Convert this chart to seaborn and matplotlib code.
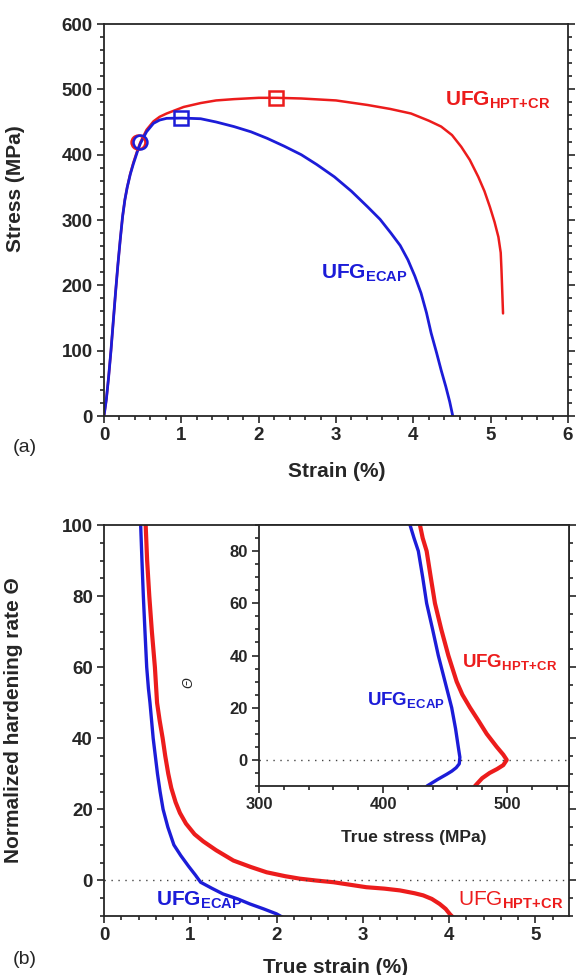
import numpy as np
import pandas as pd
import matplotlib
matplotlib.use("Agg")
import matplotlib.pyplot as plt
from matplotlib.ticker import MultipleLocator
import seaborn as sns

# (a) engineering stress-strain curves
strain_ecap = [0, 0.03, 0.06, 0.09, 0.12, 0.15, 0.18, 0.21, 0.24, 0.27, 0.30, 0.34, 0.38, 0.43,
               0.47, 0.55, 0.64, 0.72, 0.81, 1.01, 1.25, 1.45, 1.68, 1.9, 2.11, 2.33, 2.55,
               2.75, 2.98, 3.2, 3.41, 3.57, 3.71, 3.83, 3.93, 4.02, 4.10, 4.17, 4.23, 4.30,
               4.36, 4.42, 4.47, 4.51]
stress_ecap = [0, 25, 60, 100, 145, 190, 232, 270, 305, 331, 350, 370, 386, 404,
               417, 435, 448, 453, 455.6, 456, 455, 450, 443, 435, 425, 413, 400,
               385, 366, 344, 320, 301, 280, 261, 239, 214, 188, 158, 127, 97,
               70, 45, 22, 0]
strain_hpt = [0, 0.03, 0.06, 0.09, 0.12, 0.15, 0.18, 0.21, 0.24, 0.27, 0.30, 0.34, 0.38, 0.43,
              0.47, 0.55, 0.64, 0.72, 0.81, 0.92, 1.03, 1.25, 1.45, 1.68, 2.0, 2.24, 2.55,
              3.0, 3.41, 3.7, 3.97, 4.2, 4.36, 4.5, 4.62, 4.73, 4.84, 4.92, 4.99, 5.05,
              5.10, 5.13, 5.14, 5.15, 5.16]
stress_hpt = [0, 25, 60, 100, 145, 190, 232, 270, 305, 331, 350, 371, 388, 406,
              419, 438, 451, 458, 463, 468, 473, 479, 483, 485, 487, 487, 486,
              483, 476, 470, 463, 452, 443, 430, 412, 392, 366, 344, 320, 297,
              274, 250, 223, 190, 157]
# markers: yield (circle) and UTS (square)
yield_pt = (0.46, 420)
uts_ecap = (1.0, 456)
uts_hpt = (2.22, 487)

# (b) normalized hardening rate vs true strain
tstrain_ecap = [0.425, 0.44, 0.456, 0.475, 0.495, 0.515, 0.533, 0.57, 0.62, 0.65, 0.685, 0.74,
                0.81, 0.89, 0.98, 1.06, 1.12, 1.25, 1.38, 1.55, 1.69, 1.85, 2.0, 2.08]
theta_ecap = [100, 90, 80, 70, 60, 54, 50, 40, 30, 25, 20, 15,
              10, 7, 4, 1.5, -0.5, -2.2, -3.8, -5.2, -6.6, -8, -9.4, -10.5]
tstrain_hpt = [0.483, 0.50, 0.525, 0.555, 0.59, 0.615, 0.645, 0.68, 0.71, 0.745, 0.78, 0.83,
               0.88, 0.95, 1.05, 1.15, 1.3, 1.5, 1.7, 1.885, 2.1, 2.27, 2.45, 2.66, 2.85,
               3.04, 3.25, 3.43, 3.60, 3.70, 3.80, 3.89, 3.96, 4.01, 4.05]
theta_hpt = [100, 90, 80, 70, 60, 50, 45, 40, 35, 30, 26, 22,
             19, 16, 13, 11, 8.5, 5.6, 3.8, 2.3, 1.2, 0.5, 0, -0.5, -1.2,
             -1.9, -2.3, -2.8, -3.6, -4.2, -5.2, -6.6, -8, -9.5, -10.5]

# inset: hardening rate vs true stress
tstress_ecap = [421.8, 425, 428.5, 432, 435.2, 440, 444.6, 450, 455.4, 458.5, 460.7, 462,
                461.5, 459, 455.5, 451.4, 444, 435.5]
ins_theta_ecap = [90, 85, 80, 70, 60, 50, 40, 30, 20, 12, 5, 1,
                  -1.5, -3, -4.3, -5.5, -7.5, -10]
tstress_hpt = [429.8, 432, 435.2, 438.5, 441.9, 447, 452.7, 459.4, 464, 470.2, 477, 483.6,
               491.7, 497, 499.8, 497, 492, 486, 480, 474.2]
ins_theta_hpt = [90, 85, 80, 70, 60, 50, 40, 30, 25, 20, 15, 10,
                 5, 2, 0, -2, -3.5, -5, -7, -10]

RED = "#ec1c1c"
BLUE = "#1c1cd8"

sns.set_style("ticks")
plt.rcParams["font.family"] = ["Liberation Sans", "DejaVu Sans"]
plt.rcParams["mathtext.fontset"] = "custom"
plt.rcParams["mathtext.rm"] = "Liberation Sans"
plt.rcParams["mathtext.bf"] = "Liberation Sans:bold"
plt.rcParams["axes.linewidth"] = 1.3

fig = plt.figure(figsize=(5.76, 9.75), dpi=100)
ax_a = fig.add_axes([104 / 576, 1 - 416 / 975, 464 / 576, 392 / 975])
ax_b = fig.add_axes([104 / 576, 1 - 916 / 975, 465 / 576, 391 / 975])
ax_in = fig.add_axes([259 / 576, 1 - 786 / 975, 310 / 576, 261 / 975])


def style_axes(ax, size=13.5, right=True):
    ax.tick_params(which="both", direction="out", right=right, width=1.2, pad=3)
    ax.tick_params(which="major", length=5, labelsize=size)
    ax.tick_params(which="minor", length=3)
    for lab in ax.get_xticklabels() + ax.get_yticklabels():
        lab.set_fontweight("bold")
    for s in ax.spines.values():
        s.set_visible(True)


# ---- panel (a)
df_a = pd.concat([
    pd.DataFrame({"strain": strain_ecap, "stress": stress_ecap, "alloy": "ECAP"}),
    pd.DataFrame({"strain": strain_hpt, "stress": stress_hpt, "alloy": "HPT"}),
])
sns.lineplot(data=df_a[df_a.alloy == "HPT"], x="strain", y="stress", sort=False, estimator=None,
             color=RED, lw=1.8, ax=ax_a)
sns.lineplot(data=df_a[df_a.alloy == "ECAP"], x="strain", y="stress", sort=False, estimator=None,
             color=BLUE, lw=2.0, ax=ax_a)
ax_a.plot(yield_pt[0] - 0.02, yield_pt[1], "o", mfc="none", mec=RED, mew=1.8, ms=10)
ax_a.plot(yield_pt[0], yield_pt[1], "o", mfc="none", mec=BLUE, mew=1.8, ms=10)
ax_a.plot(*uts_ecap, "s", mfc="none", mec=BLUE, mew=1.8, ms=10)
ax_a.plot(*uts_hpt, "s", mfc="none", mec=RED, mew=1.8, ms=10)
ax_a.set_xlim(0, 6)
ax_a.set_ylim(0, 600)
ax_a.xaxis.set_major_locator(MultipleLocator(1))
ax_a.xaxis.set_minor_locator(MultipleLocator(0.2))
ax_a.yaxis.set_major_locator(MultipleLocator(100))
ax_a.yaxis.set_minor_locator(MultipleLocator(20))
style_axes(ax_a)
ax_a.set_xlabel("Strain (%)", fontsize=15, fontweight="bold")
ax_a.set_ylabel("Stress (MPa)", fontsize=15, fontweight="bold")
ax_a.xaxis.set_label_coords(0.502, -0.117)
ax_a.yaxis.set_label_coords(-0.17, 0.58)
ax_a.text(4.41, 476, r"$\mathbf{UFG}_{\mathbf{HPT\!+\!CR}}$", color=RED, fontsize=15, va="baseline")
ax_a.text(2.80, 211, r"$\mathbf{UFG}_{\mathbf{ECAP}}$", color=BLUE, fontsize=15, va="baseline")

# ---- panel (b)
sns.lineplot(x=tstrain_hpt, y=theta_hpt, sort=False, estimator=None, color=RED, lw=3.0, ax=ax_b)
sns.lineplot(x=tstrain_ecap, y=theta_ecap, sort=False, estimator=None, color=BLUE, lw=2.4, ax=ax_b)
ax_b.axhline(0, color="#444444", lw=1.0, ls=(0, (1, 4)))
ax_b.set_xlim(0, 5.39)
ax_b.set_ylim(-10, 100)
ax_b.xaxis.set_major_locator(MultipleLocator(1))
ax_b.xaxis.set_minor_locator(MultipleLocator(0.2))
ax_b.yaxis.set_major_locator(MultipleLocator(20))
ax_b.yaxis.set_minor_locator(MultipleLocator(5))
ax_b.set_yticks([0, 20, 40, 60, 80, 100])
style_axes(ax_b)
ax_b.set_xlabel("True strain (%)", fontsize=15, fontweight="bold")
ax_b.set_ylabel("Normalized hardening rate Θ", fontsize=15, fontweight="bold")
ax_b.xaxis.set_label_coords(0.497, -0.107)
ax_b.yaxis.set_label_coords(-0.175, 0.5)
ax_b.text(0.60, -7.0, r"$\mathbf{UFG}_{\mathbf{ECAP}}$", color=BLUE, fontsize=15, va="baseline")
ax_b.text(4.10, -7.0, r"$\mathrm{UFG}_{\mathbf{HPT\!+\!CR}}$", color=RED, fontsize=15, va="baseline")

# ---- inset
ax_in.set_facecolor("white")
sns.lineplot(x=tstress_hpt, y=ins_theta_hpt, sort=False, estimator=None, color=RED, lw=3.0, ax=ax_in)
sns.lineplot(x=tstress_ecap, y=ins_theta_ecap, sort=False, estimator=None, color=BLUE, lw=2.4, ax=ax_in)
ax_in.axhline(0, color="#444444", lw=1.0, ls=(0, (1, 4)))
ax_in.set_xlim(300, 550)
ax_in.set_ylim(-10, 90)
ax_in.xaxis.set_major_locator(MultipleLocator(100))
ax_in.xaxis.set_minor_locator(MultipleLocator(20))
ax_in.yaxis.set_major_locator(MultipleLocator(20))
ax_in.yaxis.set_minor_locator(MultipleLocator(5))
ax_in.set_yticks([0, 20, 40, 60, 80])
style_axes(ax_in, size=12, right=False)
ax_in.set_xlabel("True stress (MPa)", fontsize=12.5, fontweight="bold")
ax_in.xaxis.set_label_coords(0.5, -0.169)
ax_in.set_ylabel("Θ", fontsize=10, fontstyle="italic")
ax_in.yaxis.set_label_coords(-0.206, 0.395)
ax_in.text(387, 20.8, r"$\mathbf{UFG}_{\mathbf{ECAP}}$", color=BLUE, fontsize=13.5, va="baseline")
ax_in.text(463.7, 35.5, r"$\mathbf{UFG}_{\mathbf{HPT\!+\!CR}}$", color=RED, fontsize=13.5, va="baseline")

fig.text(25 / 576, 1 - 448 / 975, "(a)", fontsize=14, ha="center", va="center")
fig.text(25 / 576, 1 - 960 / 975, "(b)", fontsize=14, ha="center", va="center")

fig.savefig("out.png", dpi=100)
